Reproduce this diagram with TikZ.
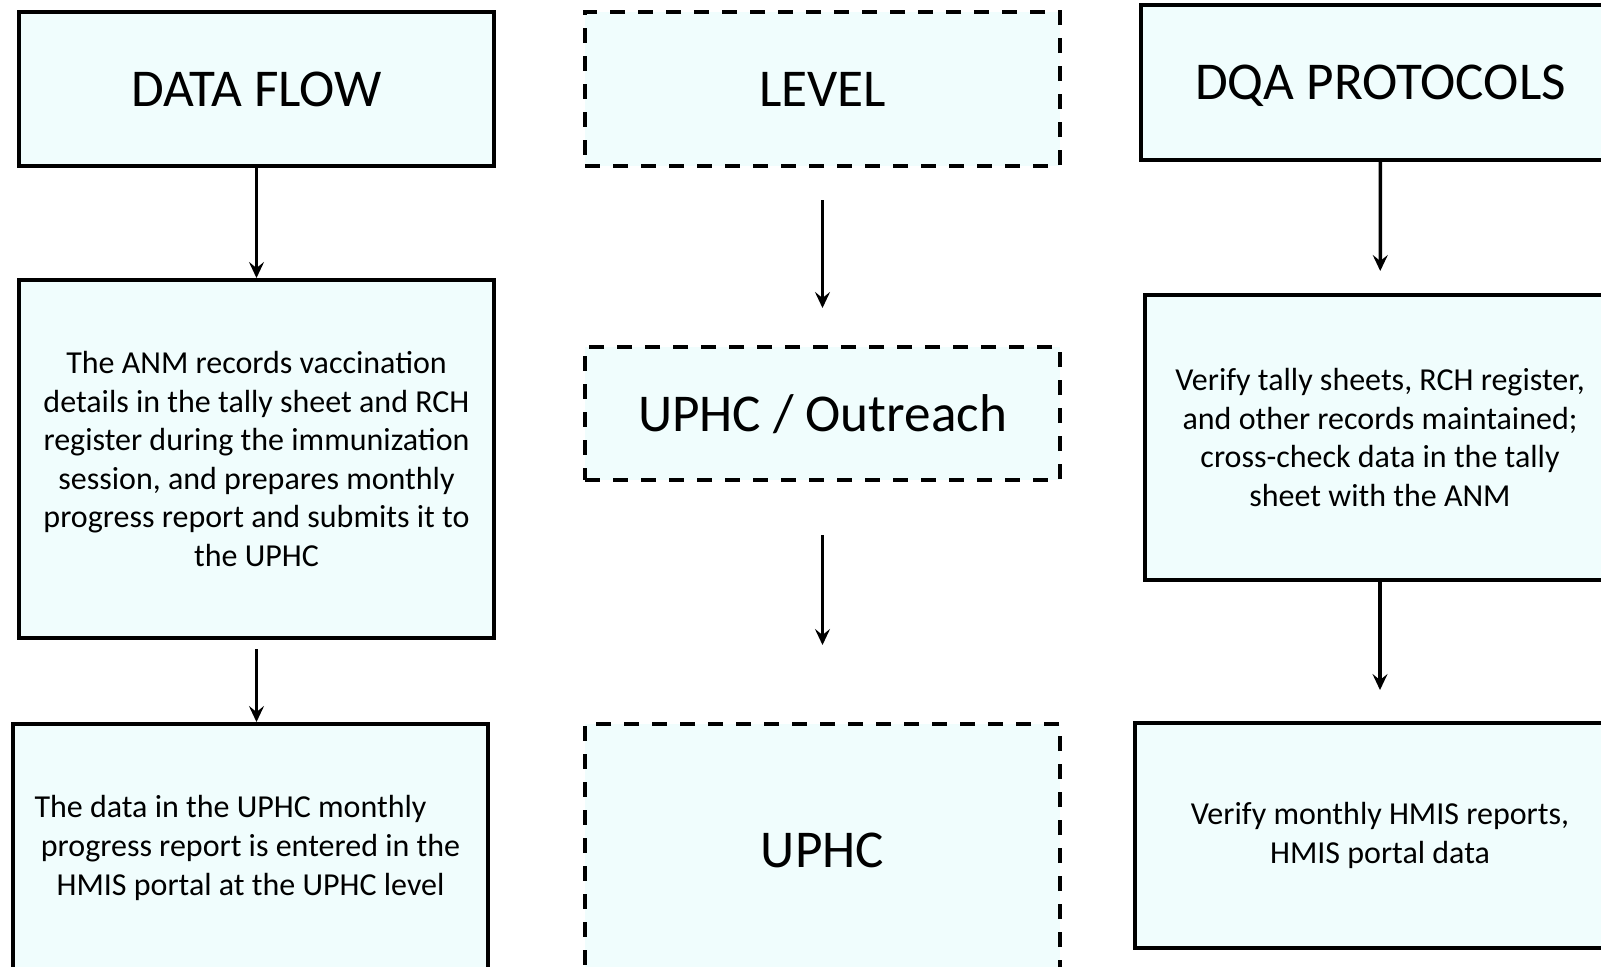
\documentclass[tikz,border=0pt]{standalone}
\usepackage{fontspec}
\setmainfont{Carlito}
\usetikzlibrary{arrows.meta}
\definecolor{boxfill}{RGB}{240,253,253}
\begin{document}
\begin{tikzpicture}[x=0.5pt,y=-0.5pt,
 box/.style={draw=black, line width=2pt, fill=boxfill, align=center, inner sep=0pt, minimum width=237.5pt},
 dbox/.style={box, dash pattern=on 7.5pt off 6.5pt},
 title/.style={font=\fontsize{26.6}{32}\selectfont, text depth=0pt},
 body/.style={font=\fontsize{16}{19.3}\selectfont},
 arr/.style={-{Stealth[length=8pt,width=7.5pt,inset=3pt]}, line width=1.75pt}]
\useasboundingbox (0,0) rectangle (1601,966);
\clip (0,0) rectangle (1601,966);
\node[box,title,minimum height=77pt] (df) at (256.5,89) {DATA FLOW};
\node[box,body,minimum height=179pt] (an) at (256.5,459) {The ANM records vaccination\\details in the tally sheet and RCH\\register during the immunization\\session, and prepares monthly\\progress report and submits it to\\the UPHC};
\node[box,body,minimum height=124pt] (hp) at (250.5,848) {The data in the UPHC monthly\hspace*{20pt}\\progress report is entered in the\\HMIS portal at the UPHC level};
\node[dbox,title,minimum height=77pt] (lv) at (822.5,89) {LEVEL};
\node[dbox,title,minimum height=66.5pt] (uo) at (822.5,413.5) {UPHC / Outreach};
\node[dbox,title,minimum height=126pt] (up) at (822.5,850) {UPHC};
\node[box,title,minimum width=239.5pt,minimum height=77.5pt] (dq) at (1380.5,82.5) {DQA PROTOCOLS};
\node[box,body,minimum width=235pt,minimum height=142.5pt] (vt) at (1380,437.5) {Verify tally sheets, RCH register,\\and other records maintained;\\cross-check data in the tally\\sheet with the ANM};
\node[box,body,minimum width=245pt,minimum height=112.5pt] (vm) at (1380,835.5) {Verify monthly HMIS reports,\\HMIS portal data};
\draw[arr] (df) -- (an);
\draw[arr, shorten <=4.5pt] (an.south) -- (an.south |- hp.north);
\draw[arr, shorten <=16pt, shorten >=18.5pt] (lv) -- (uo);
\draw[arr, shorten <=26.5pt, shorten >=38.5pt] (uo) -- (up);
\draw[arr, shorten >=11pt] (dq) -- (vt);
\draw[arr, shorten >=15.5pt] (vt) -- (vm);
\end{tikzpicture}
\end{document}
